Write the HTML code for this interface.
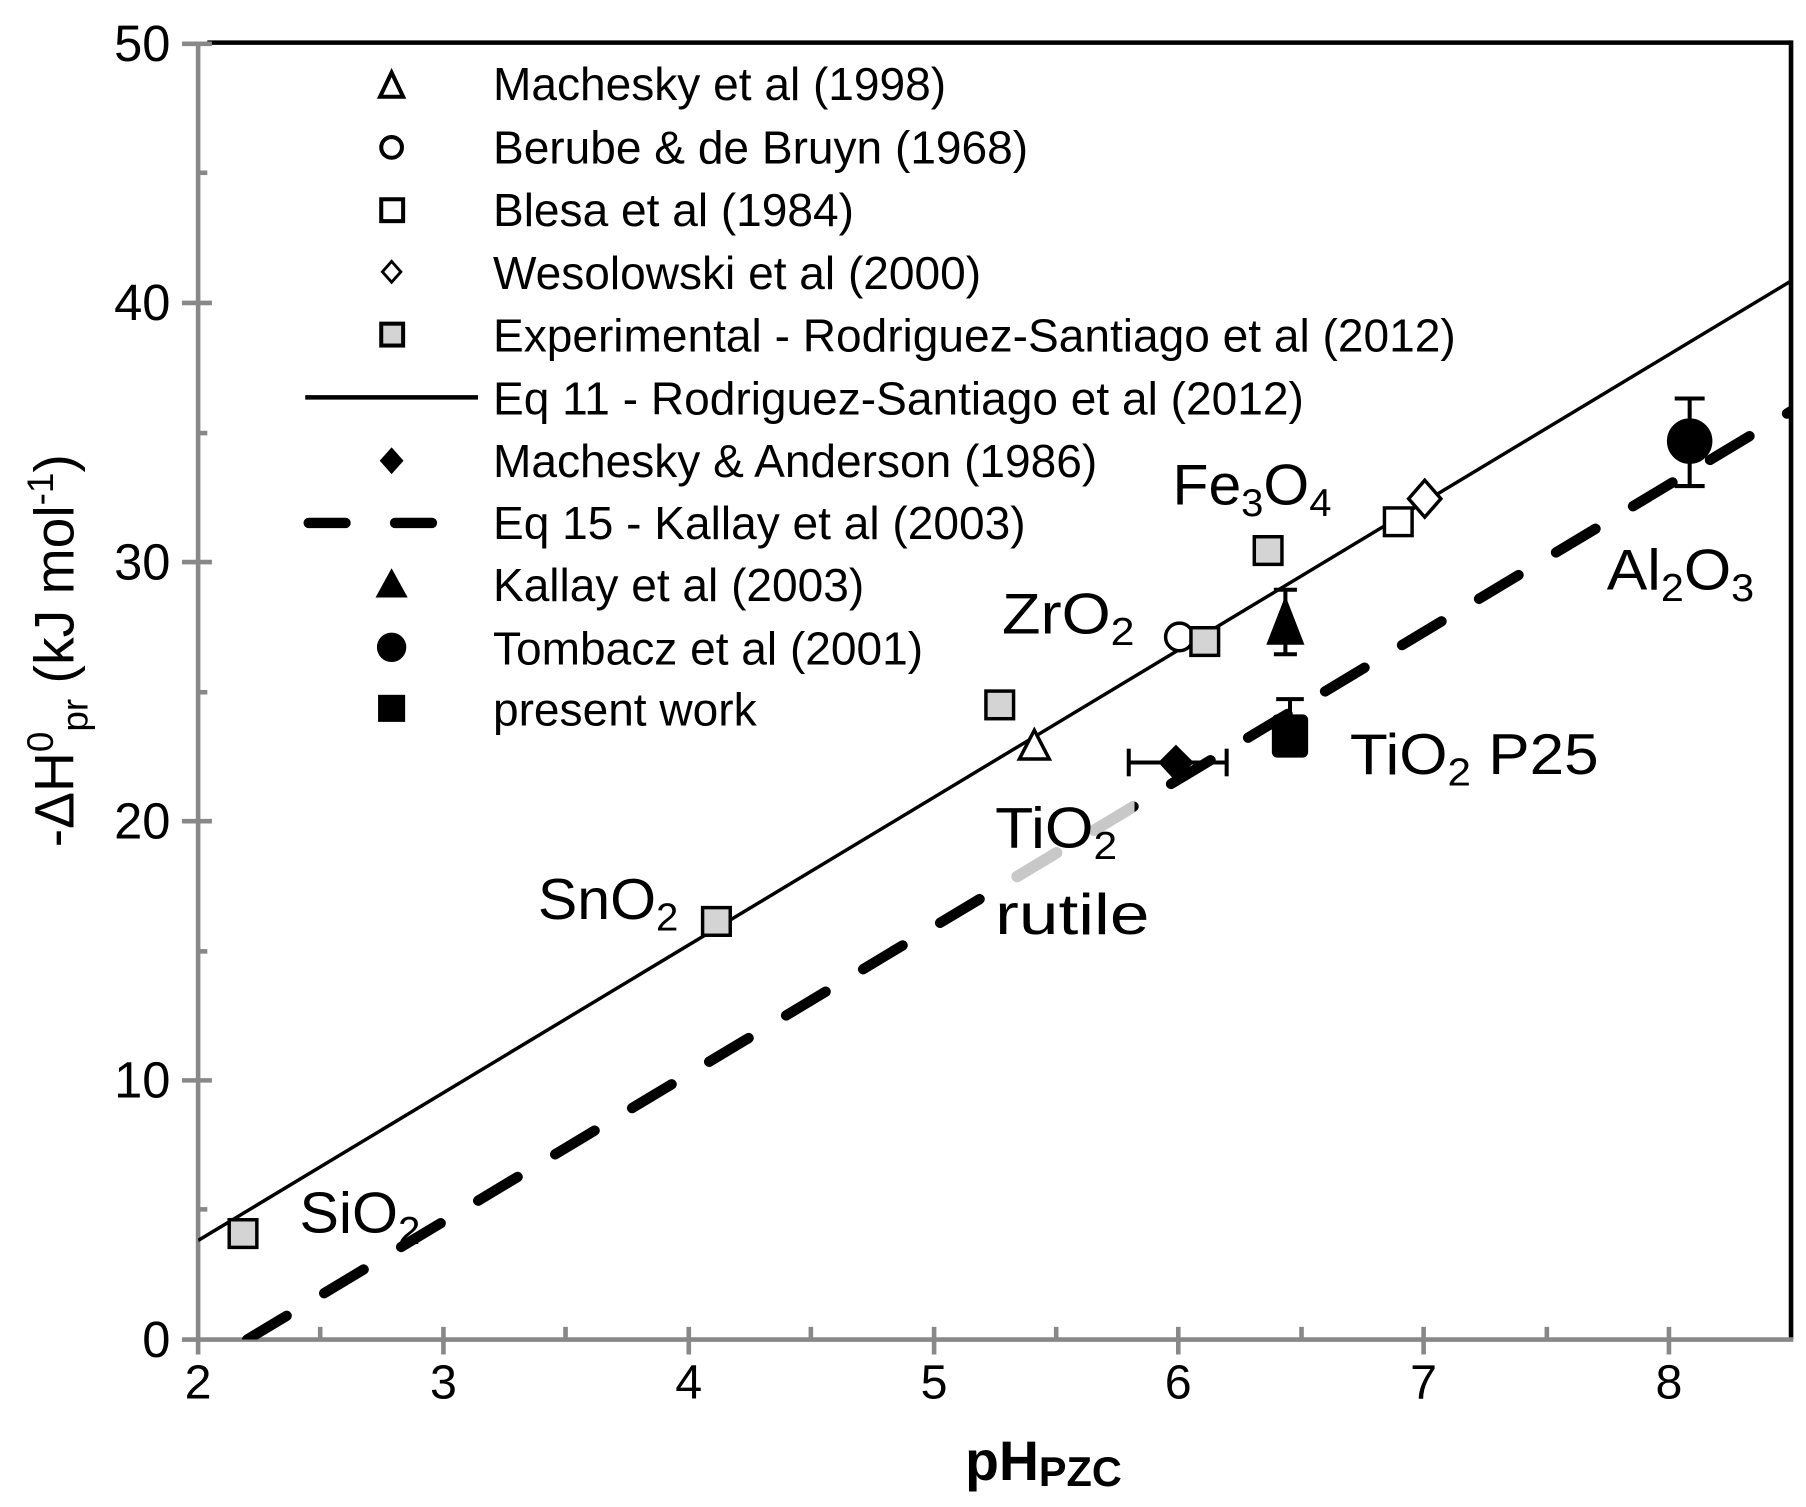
<!DOCTYPE html>
<html><head><meta charset="utf-8"><style>
html,body{margin:0;padding:0;background:#fff;}
svg{display:block;}
text{font-family:"Liberation Sans",sans-serif;fill:#000;}
</style></head><body>
<svg width="1806" height="1507" viewBox="0 0 1568 1308.4" preserveAspectRatio="none" xmlns="http://www.w3.org/2000/svg">
<defs><clipPath id="g"><rect x="870" y="600" width="115" height="200"/></clipPath>
<clipPath id="plot"><rect x="172" y="37" width="1383" height="1126"/></clipPath></defs>
<line x1="180" y1="37" x2="1555" y2="37" stroke="#000" stroke-width="4"/>
<line x1="1555" y1="35" x2="1555" y2="1163" stroke="#000" stroke-width="4"/>
<line x1="172" y1="37" x2="172" y2="1165" stroke="#888" stroke-width="4"/>
<line x1="158" y1="1163" x2="1557" y2="1163" stroke="#888" stroke-width="4"/>
<g stroke="#888" stroke-width="4">
<line x1="158" y1="38" x2="184" y2="38"/><line x1="158" y1="263" x2="184" y2="263"/><line x1="158" y1="488" x2="184" y2="488"/><line x1="158" y1="713" x2="184" y2="713"/><line x1="158" y1="938" x2="184" y2="938"/>
<line x1="172" y1="150" x2="180" y2="150"/><line x1="172" y1="376" x2="180" y2="376"/><line x1="172" y1="601" x2="180" y2="601"/><line x1="172" y1="826" x2="180" y2="826"/><line x1="172" y1="1050" x2="180" y2="1050"/>
<line x1="385" y1="1152" x2="385" y2="1176"/><line x1="598" y1="1152" x2="598" y2="1176"/><line x1="811" y1="1152" x2="811" y2="1176"/><line x1="1023" y1="1152" x2="1023" y2="1176"/><line x1="1236" y1="1152" x2="1236" y2="1176"/><line x1="1449" y1="1152" x2="1449" y2="1176"/><line x1="172" y1="1163" x2="172" y2="1176"/>
<line x1="278" y1="1152" x2="278" y2="1163"/><line x1="491" y1="1152" x2="491" y2="1163"/><line x1="704" y1="1152" x2="704" y2="1163"/><line x1="917" y1="1152" x2="917" y2="1163"/><line x1="1130" y1="1152" x2="1130" y2="1163"/><line x1="1343" y1="1152" x2="1343" y2="1163"/>
</g>
<g font-size="44" text-anchor="end">
<text x="148" y="53">50</text><text x="148" y="278">40</text><text x="148" y="503">30</text><text x="148" y="728">20</text><text x="148" y="953">10</text><text x="148" y="1178">0</text>
</g>
<g font-size="42" text-anchor="middle">
<text x="172" y="1214">2</text><text x="385" y="1214">3</text><text x="598" y="1214">4</text><text x="811" y="1214">5</text><text x="1023" y="1214">6</text><text x="1236" y="1214">7</text><text x="1449" y="1214">8</text>
</g>
<text x="838" y="1285" font-size="48" font-weight="bold">pH<tspan font-size="36" dy="5">PZC</tspan></text>
<text transform="translate(64,565) rotate(-90)" font-size="48" text-anchor="middle">-ΔH<tspan font-size="32" dy="-18">0</tspan><tspan font-size="32" dy="30">pr</tspan><tspan dy="-12"> (kJ mol</tspan><tspan font-size="32" dy="-18">-1</tspan><tspan dy="18">)</tspan></text>
<g clip-path="url(#plot)">
<line x1="172" y1="1077" x2="1555" y2="244" stroke="#000" stroke-width="3"/>
<line x1="214.6" y1="1163" x2="1555" y2="357" stroke="#000" stroke-width="9" stroke-linecap="round" stroke-dasharray="40 38"/>
<line x1="214.6" y1="1163" x2="1555" y2="357" stroke="#c8c8c8" stroke-width="10" stroke-linecap="round" stroke-dasharray="40 38" clip-path="url(#g)"/>
</g>
<g stroke="#000" stroke-width="3" fill="#d4d4d4">
<rect x="199" y="1059" width="24" height="24"/>
<rect x="610" y="788" width="24" height="24"/>
<rect x="856" y="600" width="24" height="24"/>
<rect x="1089" y="466" width="24" height="24"/>
<circle cx="1024" cy="553" r="12" fill="#fff"/>
<rect x="1034" y="545" width="24" height="24"/>
<path d="M898,634 L911,659 L885,659 Z" fill="#fff"/>
<rect x="1202" y="441" width="24" height="24" fill="#fff"/>
<path d="M1237,417 L1251,433 L1237,449 L1223,433 Z" fill="#fff"/>
</g>
<g stroke="#000" stroke-width="3.5" fill="#000">
<line x1="980" y1="662" x2="1065" y2="662"/><line x1="980" y1="650" x2="980" y2="674"/><line x1="1065" y1="650" x2="1065" y2="674"/>
<path d="M1021,649 L1034,662 L1021,676 L1008,662 Z"/>
<line x1="1116" y1="512" x2="1116" y2="568"/><line x1="1106" y1="512" x2="1126" y2="512"/><line x1="1106" y1="568" x2="1126" y2="568"/>
<path d="M1116,522 L1130,558 L1102,558 Z"/>
<line x1="1467" y1="346" x2="1467" y2="422"/><line x1="1454" y1="346" x2="1480" y2="346"/><line x1="1454" y1="422" x2="1480" y2="422"/>
<circle cx="1467" cy="383" r="18"/>
<line x1="1120" y1="607" x2="1120" y2="630"/><line x1="1108" y1="607" x2="1132" y2="607"/>
<rect x="1106" y="622" width="28" height="34" rx="3"/>
</g>
<g stroke="#000" stroke-width="3.5" fill="#fff">
<path d="M340,63 L350,84 L330,84 Z"/>
<circle cx="340" cy="128" r="9"/>
<rect x="331" y="173" width="19" height="19"/>
<path d="M340,227 L348,236 L340,245 L332,236 Z" stroke-width="2.5"/>
<rect x="331" y="281" width="19" height="19" fill="#d4d4d4"/>
<line x1="265" y1="345" x2="415" y2="345" stroke-width="4"/>
<path d="M340,391 L348,400 L340,409 L332,400 Z" fill="#000"/>
<line x1="268" y1="454" x2="300" y2="454" stroke-width="9" stroke-linecap="round"/>
<line x1="343" y1="454" x2="375" y2="454" stroke-width="9" stroke-linecap="round"/>
<path d="M340,497 L351,517 L329,517 Z" fill="#000"/>
<circle cx="340" cy="562" r="11" fill="#000"/>
<rect x="330" y="605" width="20" height="20" fill="#000"/>
</g>
<g font-size="40" transform="translate(428,0) scale(1,1)">
<text x="0" y="87">Machesky et al (1998)</text>
<text x="0" y="142">Berube &amp; de Bruyn (1968)</text>
<text x="0" y="196">Blesa et al (1984)</text>
<text x="0" y="251">Wesolowski et al (2000)</text>
<text x="0" y="305">Experimental - Rodriguez-Santiago et al (2012)</text>
<text x="0" y="360">Eq 11 - Rodriguez-Santiago et al (2012)</text>
<text x="0" y="414">Machesky &amp; Anderson (1986)</text>
<text x="0" y="468">Eq 15 - Kallay et al (2003)</text>
<text x="0" y="522">Kallay et al (2003)</text>
<text x="0" y="577">Tombacz et al (2001)</text>
<text x="0" y="630">present work</text>
</g>
<g font-size="50">
<text x="1018" y="438" textLength="138" lengthAdjust="spacingAndGlyphs">Fe<tspan font-size="34" dy="10">3</tspan><tspan dy="-10">O</tspan><tspan font-size="34" dy="10">4</tspan></text>
<text x="870" y="550" textLength="115" lengthAdjust="spacingAndGlyphs">ZrO<tspan font-size="34" dy="10">2</tspan></text>
<text x="467" y="798" textLength="122" lengthAdjust="spacingAndGlyphs">SnO<tspan font-size="34" dy="10">2</tspan></text>
<text x="260" y="1070" textLength="105" lengthAdjust="spacingAndGlyphs">SiO<tspan font-size="34" dy="10">2</tspan></text>
<text x="864" y="736" textLength="106" lengthAdjust="spacingAndGlyphs">TiO<tspan font-size="34" dy="10">2</tspan></text>
<text x="864" y="811" textLength="134" lengthAdjust="spacingAndGlyphs">rutile</text>
<text x="1172" y="672" textLength="216" lengthAdjust="spacingAndGlyphs">TiO<tspan font-size="34" dy="10">2</tspan><tspan dy="-10"> P25</tspan></text>
<text x="1395" y="512" textLength="128" lengthAdjust="spacingAndGlyphs">Al<tspan font-size="34" dy="10">2</tspan><tspan dy="-10">O</tspan><tspan font-size="34" dy="10">3</tspan></text>
</g>
</svg>
</body></html>
